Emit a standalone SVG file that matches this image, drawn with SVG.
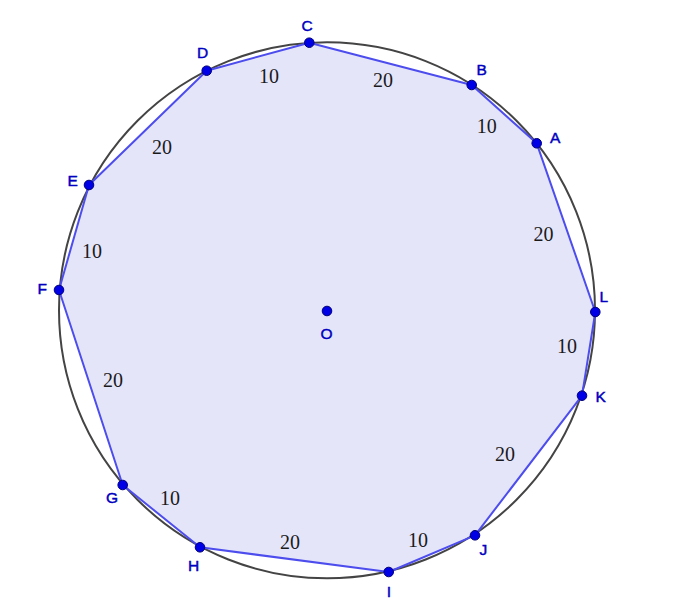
<svg xmlns="http://www.w3.org/2000/svg" width="674" height="609" viewBox="0 0 674 609">
<style>
.pt{fill:#0000e6;stroke:#00007a;stroke-width:1}
.lbl{font-family:"Liberation Sans",Arial,sans-serif;font-size:15.5px;fill:#0000c0;stroke:#0000c0;stroke-width:0.45}
.num{font-family:"Liberation Serif","Times New Roman",serif;font-size:20px;fill:#1a1a1a;text-anchor:middle}
</style>
<rect width="674" height="609" fill="#ffffff"/>
<g id="polygon">
<polygon points="536.7,143.3 595.3,312 582,395.7 475,535.3 388.7,572 200,547.3 122.7,485 59,290 89,185 206.7,70.7 309.3,42.7 471.7,85" fill="#e5e5fa" stroke="none"/>
</g>
<g id="circle">
<circle cx="327" cy="310.3" r="268" fill="none" stroke="#444444" stroke-width="2"/>
</g>
<g id="connectors" stroke="#4d4dee" stroke-width="2" fill="none" stroke-linecap="round">
<line x1="536.7" y1="143.3" x2="595.3" y2="312"/>
<line x1="595.3" y1="312" x2="582" y2="395.7"/>
<line x1="582" y1="395.7" x2="475" y2="535.3"/>
<line x1="475" y1="535.3" x2="388.7" y2="572"/>
<line x1="388.7" y1="572" x2="200" y2="547.3"/>
<line x1="200" y1="547.3" x2="122.7" y2="485"/>
<line x1="122.7" y1="485" x2="59" y2="290"/>
<line x1="59" y1="290" x2="89" y2="185"/>
<line x1="89" y1="185" x2="206.7" y2="70.7"/>
<line x1="206.7" y1="70.7" x2="309.3" y2="42.7"/>
<line x1="309.3" y1="42.7" x2="471.7" y2="85"/>
<line x1="471.7" y1="85" x2="536.7" y2="143.3"/>
</g>
<g id="edge-labels">
<text class="num" x="269" y="82.5">10</text>
<text class="num" x="383" y="87">20</text>
<text class="num" x="486.7" y="132.5">10</text>
<text class="num" x="543.5" y="241">20</text>
<text class="num" x="567" y="353">10</text>
<text class="num" x="505" y="461">20</text>
<text class="num" x="418" y="546.5">10</text>
<text class="num" x="290" y="549">20</text>
<text class="num" x="170" y="505">10</text>
<text class="num" x="113" y="386.5">20</text>
<text class="num" x="92" y="257.5">10</text>
<text class="num" x="162" y="154">20</text>
</g>
<g id="A"><circle class="pt" cx="536.7" cy="143.3" r="4.8"/><text class="lbl" x="550" y="143">A</text></g>
<g id="B"><circle class="pt" cx="471.7" cy="85" r="4.8"/><text class="lbl" x="476.5" y="75">B</text></g>
<g id="C"><circle class="pt" cx="309.3" cy="42.7" r="4.8"/><text class="lbl" x="301.5" y="31">C</text></g>
<g id="D"><circle class="pt" cx="206.7" cy="70.7" r="4.8"/><text class="lbl" x="197" y="58.3">D</text></g>
<g id="E"><circle class="pt" cx="89" cy="185" r="4.8"/><text class="lbl" x="67.5" y="186">E</text></g>
<g id="F"><circle class="pt" cx="59" cy="290" r="4.8"/><text class="lbl" x="37.5" y="294">F</text></g>
<g id="G"><circle class="pt" cx="122.7" cy="485" r="4.8"/><text class="lbl" x="106" y="502.7">G</text></g>
<g id="H"><circle class="pt" cx="200" cy="547.3" r="4.8"/><text class="lbl" x="188" y="570.7">H</text></g>
<g id="I"><circle class="pt" cx="388.7" cy="572" r="4.8"/><text class="lbl" x="386.7" y="596.7">I</text></g>
<g id="J"><circle class="pt" cx="475" cy="535.3" r="4.8"/><text class="lbl" x="479.5" y="555">J</text></g>
<g id="K"><circle class="pt" cx="582" cy="395.7" r="4.8"/><text class="lbl" x="595.5" y="402">K</text></g>
<g id="L"><circle class="pt" cx="595.3" cy="312" r="4.8"/><text class="lbl" x="599.5" y="301.7">L</text></g>
<g id="O"><circle class="pt" cx="327" cy="311" r="4.8"/><text class="lbl" x="320.5" y="339.3">O</text></g>
</svg>
